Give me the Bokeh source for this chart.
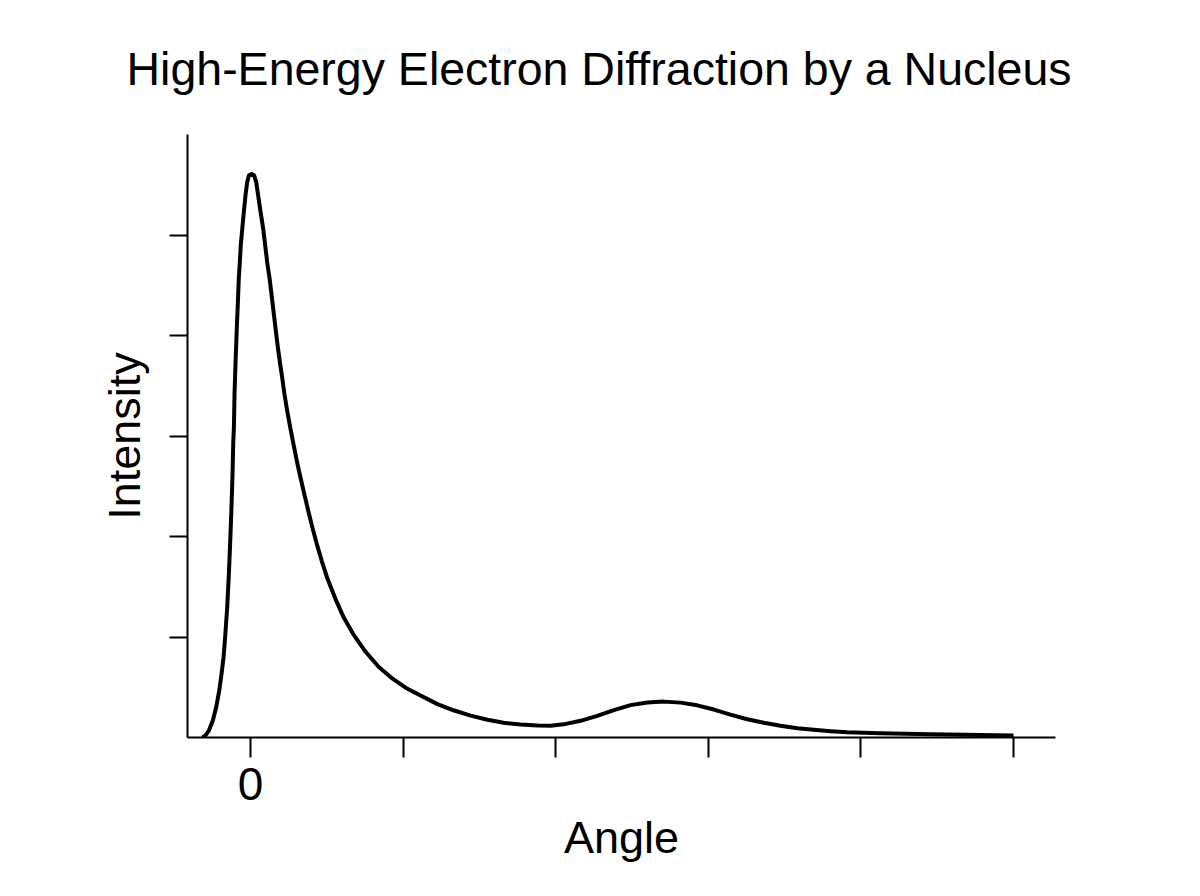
from bokeh.plotting import figure
from bokeh.models import FixedTicker, Range1d
from bokeh.embed import file_html
from bokeh.resources import INLINE

# Curve (angle and intensity in tick units)
angle = [-0.315, -0.295, -0.273, -0.247, -0.225, -0.205, -0.190, -0.177, -0.168,
         -0.153, -0.142, -0.133, -0.125, -0.118, -0.113, -0.109, -0.105, -0.098,
         -0.090, -0.081, -0.077, -0.070, -0.064, -0.054, -0.044, -0.033, -0.022,
         -0.011, 0.007,
         0.024, 0.037, 0.050, 0.066, 0.083, 0.096, 0.109, 0.125, 0.138, 0.151,
         0.164, 0.177, 0.192, 0.208, 0.223, 0.241, 0.261, 0.282, 0.304, 0.328,
         0.353, 0.379, 0.406, 0.435, 0.467, 0.502, 0.562, 0.611, 0.673, 0.754,
         0.839, 0.931, 1.016, 1.114, 1.225, 1.330, 1.442, 1.553, 1.658, 1.769,
         1.881, 1.966, 2.051, 2.163, 2.272, 2.381, 2.490, 2.600, 2.708, 2.818,
         2.927, 3.036, 3.145, 3.255, 3.364, 3.473, 3.583, 3.691, 3.801, 3.910,
         4.128, 4.456, 4.784, 5.000]
intensity = [0.000, 0.020, 0.069, 0.169, 0.301, 0.466, 0.632, 0.797, 0.962,
             1.293, 1.624, 1.954, 2.285, 2.616, 2.946, 3.078, 3.410, 3.740,
             4.070, 4.402, 4.567, 4.732, 4.898, 5.063, 5.228, 5.394, 5.526,
             5.592, 5.608,
             5.592, 5.526, 5.394, 5.228, 5.063, 4.898, 4.732, 4.567, 4.402, 4.236,
             4.070, 3.906, 3.740, 3.574, 3.410, 3.244, 3.078, 2.914, 2.748, 2.582,
             2.418, 2.252, 2.086, 1.922, 1.756, 1.590, 1.359, 1.193, 1.029, 0.853,
             0.704, 0.585, 0.496, 0.417, 0.332, 0.271, 0.218, 0.176, 0.146, 0.129,
             0.119, 0.117, 0.131, 0.166, 0.215, 0.273, 0.322, 0.349, 0.357, 0.347,
             0.320, 0.278, 0.228, 0.182, 0.146, 0.116, 0.092, 0.076, 0.063, 0.053,
             0.043, 0.032, 0.024, 0.020]

x_ticks = [0, 1, 2, 3, 4, 5]
x_tick_labels = ["0", "", "", "", "", ""]
y_ticks = [1, 2, 3, 4, 5]

FONT = "Liberation Sans"

p = figure(width=1184, height=880, output_backend="svg", toolbar_location=None,
           x_range=Range1d(-0.413, 5.275), y_range=Range1d(0, 6),
           min_border_left=187, min_border_right=129,
           min_border_top=133, min_border_bottom=143,
           title="High-Energy Electron Diffraction by a Nucleus")

p.line(angle, intensity, line_color="black", line_width=4, line_join="round")

p.title.text_font = FONT
p.title.text_font_size = "46.5px"
p.title.text_font_style = "normal"
p.title.align = "left"
p.title.offset = -61
p.title.standoff = 80
p.title.text_color = "black"

p.grid.visible = False
p.outline_line_color = None
p.background_fill_color = "white"
p.border_fill_color = "white"

for ax in (p.xaxis, p.yaxis):
    ax.axis_line_color = "black"
    ax.axis_line_width = 2
    ax.major_tick_line_color = "black"
    ax.major_tick_line_width = 2
    ax.major_tick_in = 0
    ax.minor_tick_line_color = None
    ax.major_label_text_font = FONT
    ax.major_label_text_font_size = "46px"
    ax.major_label_text_color = "black"
    ax.axis_label_text_font = FONT
    ax.axis_label_text_font_size = "45px"
    ax.axis_label_text_font_style = "normal"
    ax.axis_label_text_color = "black"

p.xaxis.ticker = FixedTicker(ticks=x_ticks)
p.xaxis.major_label_overrides = {t: l for t, l in zip(x_ticks, x_tick_labels)}
p.xaxis.major_tick_out = 20
p.xaxis.major_label_standoff = 10
p.xaxis.axis_label = "Angle"
p.xaxis.axis_label_standoff = 9

p.yaxis.ticker = FixedTicker(ticks=y_ticks)
p.yaxis.major_label_overrides = {t: "" for t in y_ticks}
p.yaxis.major_tick_out = 18
p.yaxis.axis_label = "Intensity"
p.yaxis.axis_label_standoff = 20

open("out.html", "w").write(file_html(p, INLINE))
